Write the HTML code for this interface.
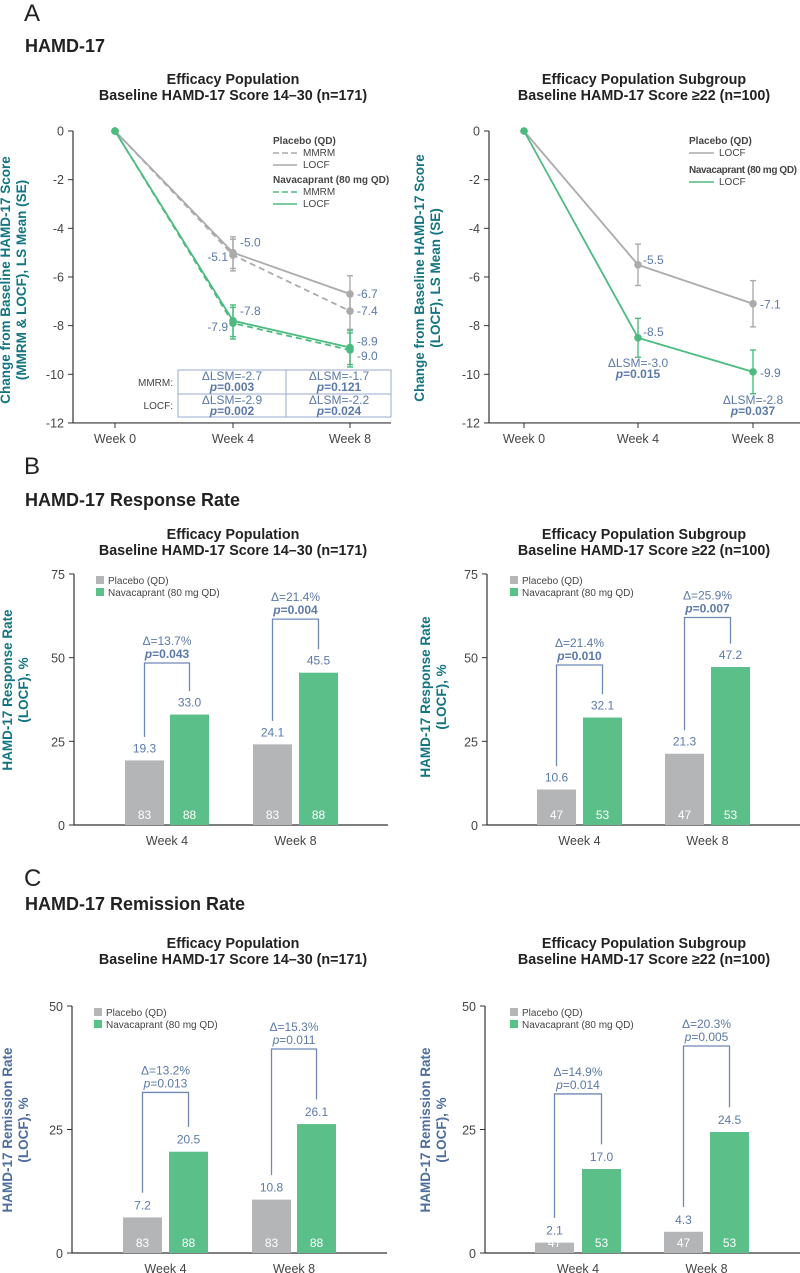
<!DOCTYPE html>
<html><head><meta charset="utf-8">
<style>
html,body{margin:0;padding:0;background:#fff;}
svg{display:block;font-family:"Liberation Sans",Arial,sans-serif;}
.hdr{font-family:"Liberation Sans Narrow","Liberation Sans",sans-serif;font-weight:bold;fill:#222;}
.ttl{font-family:"Liberation Sans Narrow","Liberation Sans",sans-serif;font-weight:bold;font-size:14.3px;fill:#222;}
.tick{font-size:12.5px;fill:#444;}
.val{font-size:12px;fill:#5b79a9;}
.leg{font-size:10px;fill:#444;}
.ytA{font-size:13.5px;font-weight:bold;fill:#127581;}
.ytC{font-size:13.5px;font-weight:bold;fill:#4d6d9e;}
</style></head>
<body>
<svg id="fig" width="800" height="1273" viewBox="0 0 800 1273">
<text x="24" y="21" font-size="24" fill="#222" font-family="Liberation Sans Narrow, Liberation Sans, sans-serif">A</text>
<text x="25" y="52" class="hdr" font-size="18">HAMD-17</text>
<text x="233" y="84" class="ttl" text-anchor="middle">Efficacy Population</text>
<text x="233" y="100" class="ttl" text-anchor="middle">Baseline HAMD-17 Score 14–30 (n=171)</text>
<text x="644" y="84" class="ttl" text-anchor="middle">Efficacy Population Subgroup</text>
<text x="644" y="100" class="ttl" text-anchor="middle">Baseline HAMD-17 Score ≥22 (n=100)</text>

<text x="24" y="474" font-size="24" fill="#222" font-family="Liberation Sans Narrow, Liberation Sans, sans-serif">B</text>
<text x="25" y="506" class="hdr" font-size="18">HAMD-17 Response Rate</text>
<text x="233" y="539" class="ttl" text-anchor="middle">Efficacy Population</text>
<text x="233" y="555" class="ttl" text-anchor="middle">Baseline HAMD-17 Score 14–30 (n=171)</text>
<text x="644" y="539" class="ttl" text-anchor="middle">Efficacy Population Subgroup</text>
<text x="644" y="555" class="ttl" text-anchor="middle">Baseline HAMD-17 Score ≥22 (n=100)</text>

<text x="24" y="886" font-size="24" fill="#222" font-family="Liberation Sans Narrow, Liberation Sans, sans-serif">C</text>
<text x="25" y="910" class="hdr" font-size="18">HAMD-17 Remission Rate</text>
<text x="233" y="948" class="ttl" text-anchor="middle">Efficacy Population</text>
<text x="233" y="964" class="ttl" text-anchor="middle">Baseline HAMD-17 Score 14–30 (n=171)</text>
<text x="644" y="948" class="ttl" text-anchor="middle">Efficacy Population Subgroup</text>
<text x="644" y="964" class="ttl" text-anchor="middle">Baseline HAMD-17 Score ≥22 (n=100)</text>
</svg>
<script>
// ---------- Data: Panel A (line charts) ----------
const weeksA = ["Week 0","Week 4","Week 8"];
const yTicksA = [0,-2,-4,-6,-8,-10,-12];
const aLeftPboMMRM = [0,-5.1,-7.4];
const aLeftPboLOCF = [0,-5.0,-6.7];
const aLeftNavMMRM = [0,-7.9,-9.0];
const aLeftNavLOCF = [0,-7.8,-8.9];
const aLeftPboSE = [0,0.65,0.75];
const aLeftNavSE = [0,0.65,0.7];
const aRightPboLOCF = [0,-5.5,-7.1];
const aRightNavLOCF = [0,-8.5,-9.9];
const aRightPboSE = [0,0.85,0.95];
const aRightNavSE = [0,0.8,0.9];
const aTableMMRM = ["ΔLSM=-2.7","p=0.003","ΔLSM=-1.7","p=0.121"];
const aTableLOCF = ["ΔLSM=-2.9","p=0.002","ΔLSM=-2.2","p=0.024"];
const aRightDelta = ["ΔLSM=-3.0","p=0.015","ΔLSM=-2.8","p=0.037"];

// ---------- Data: Panels B/C (bar charts) ----------
const weeksBar = ["Week 4","Week 8"];
const yTicksB = [0,25,50,75];
const yTicksC = [0,25,50];
const bLeftPbo = [19.3,24.1];
const bLeftNav = [33.0,45.5];
const bLeftN = [83,88];
const bLeftDelta = ["Δ=13.7%","Δ=21.4%"];
const bLeftP = ["p=0.043","p=0.004"];
const bLeftBracket = [48.4,61.5];
const bRightPbo = [10.6,21.3];
const bRightNav = [32.1,47.2];
const bRightN = [47,53];
const bRightDelta = ["Δ=21.4%","Δ=25.9%"];
const bRightP = ["p=0.010","p=0.007"];
const bRightBracket = [47.8,62.0];
const cLeftPbo = [7.2,10.8];
const cLeftNav = [20.5,26.1];
const cLeftN = [83,88];
const cLeftDelta = ["Δ=13.2%","Δ=15.3%"];
const cLeftP = ["p=0.013","p=0.011"];
const cLeftBracket = [32.5,41.3];
const cRightPbo = [2.1,4.3];
const cRightNav = [17.0,24.5];
const cRightN = [47,53];
const cRightDelta = ["Δ=14.9%","Δ=20.3%"];
const cRightP = ["p=0.014","p=0.005"];
const cRightBracket = [32.2,41.9];

const NS = "http://www.w3.org/2000/svg";
const svg = document.getElementById('fig');
const GRAY = "#ababab", GREEN = "#4dbb80", BARG = "#b4b5b7", BARN = "#5bbf8a", BLUE = "#5b79a9", AX = "#333";

function mk(tag, attrs, parent) {
  const e = document.createElementNS(NS, tag);
  for (const k in attrs) e.setAttribute(k, attrs[k]);
  (parent || svg).appendChild(e);
  return e;
}
function txt(x, y, s, cls, anchor, parent, extra) {
  const t = mk('text', Object.assign({x: x, y: y, class: cls, 'text-anchor': anchor || 'start'}, extra || {}), parent);
  t.textContent = s;
  return t;
}
function pText(x, y, s, parent, anchor) {
  const t = mk('text', {x: x, y: y, class: 'val', 'text-anchor': anchor || 'middle', 'font-weight': 'bold'}, parent);
  const a = mk('tspan', {'font-style': 'italic'}, t); a.textContent = s.slice(0,1);
  const b = mk('tspan', {}, t); b.textContent = s.slice(1);
  return t;
}
function yTitle(cx, cy, l1, l2, cls, parent) {
  const g = mk('g', {transform: 'translate(' + cx + ',' + cy + ') rotate(-90)'}, parent);
  
  
  txt(0, -4, l1, cls, 'middle', g);
  txt(0, 12, l2, cls, 'middle', g);
}

function lineChart(o) {
  const g = mk('g', {});
  
  
  const y = v => o.y0 + (-v) * o.pxPer;
  const x = i => o.xs[i];
  const ax = mk('g', {}, g);
  
  
  mk('line', {x1: o.axX, y1: y(0), x2: o.axX, y2: y(-12), stroke: AX, 'stroke-width': 1.2}, ax);
  yTicksA.forEach(v => {
    mk('line', {x1: o.axX - 5, y1: y(v), x2: o.axX, y2: y(v), stroke: AX, 'stroke-width': 1}, ax);
    const t = txt(o.axX - 9, y(v) + 4.5, String(v), 'tick', 'end', ax);
    
    
  });
  const xa = mk('g', {}, g);
  
  
  mk('line', {x1: o.axX, y1: y(-12), x2: o.axEnd, y2: y(-12), stroke: AX, 'stroke-width': 1.2}, xa);
  weeksA.forEach((w, i) => {
    mk('line', {x1: x(i), y1: y(-12), x2: x(i), y2: y(-12) + 5, stroke: AX, 'stroke-width': 1}, xa);
    const t = txt(x(i), y(-12) + 20, w, 'tick', 'middle', xa);
    
    
  });
  o.series.forEach(s => {
    const sg = mk('g', {}, g);
    
    
    s.se.forEach((e, i) => {
      if (e <= 0) return;
      mk('line', {x1: x(i), y1: y(s.v[i] - e), x2: x(i), y2: y(s.v[i] + e), stroke: s.c, 'stroke-width': 1.4}, sg);
      mk('line', {x1: x(i) - 3, y1: y(s.v[i] - e), x2: x(i) + 3, y2: y(s.v[i] - e), stroke: s.c, 'stroke-width': 1.4}, sg);
      mk('line', {x1: x(i) - 3, y1: y(s.v[i] + e), x2: x(i) + 3, y2: y(s.v[i] + e), stroke: s.c, 'stroke-width': 1.4}, sg);
    });
    const pts = s.v.map((v, i) => x(i) + ',' + y(v)).join(' ');
    const pl = mk('polyline', {points: pts, fill: 'none', stroke: s.c, 'stroke-width': 1.8}, sg);
    if (s.dash) pl.setAttribute('stroke-dasharray', '6,4');
    s.v.forEach((v, i) => {
      const c = mk('circle', {cx: x(i), cy: y(v), r: 3.8, fill: s.c}, sg);
      
      
    });
    (s.labels || []).forEach(L => {
      const i = L[0];
      const t = txt(x(i) + L[1], y(s.v[i]) + L[2], s.v[i].toFixed(1), 'val', L[3], sg);
      t.setAttribute('font-size', '13');
      
      
    });
  });
  return {g: g, x: x, y: y};
}

const aL = lineChart({name: 'chart-a-left', y0: 131, pxPer: 24.33, xs: [115,233,350], axX: 73, axEnd: 391,
  series: [
    {name: 'series-placebo-mmrm', v: aLeftPboMMRM, se: aLeftPboSE, c: GRAY, dash: true, labels: [[1,-5,6,'end'],[2,7,4,'start']]},
    {name: 'series-placebo-locf', v: aLeftPboLOCF, se: aLeftPboSE, c: GRAY, dash: false, labels: [[1,7,-6,'start'],[2,7,4,'start']]},
    {name: 'series-navacaprant-mmrm', v: aLeftNavMMRM, se: aLeftNavSE, c: GREEN, dash: true, labels: [[1,-5,8,'end'],[2,7,10,'start']]},
    {name: 'series-navacaprant-locf', v: aLeftNavLOCF, se: aLeftNavSE, c: GREEN, dash: false, labels: [[1,7,-6,'start'],[2,7,-2,'start']]}
  ]});
yTitle(14, 280, 'Change from Baseline HAMD-17 Score', '(MMRM & LOCF), LS Mean (SE)', 'ytA');
(function(){
  const g = mk('g', {});
  
  
  txt(273, 144, 'Placebo (QD)', 'leg', 'start', g, {'font-weight': 'bold', 'font-size': '9.5'});
  mk('line', {x1: 273, y1: 153, x2: 297, y2: 153, stroke: GRAY, 'stroke-width': 1.6, 'stroke-dasharray': '6,3'}, g);
  txt(303, 156, 'MMRM', 'leg', 'start', g);
  mk('line', {x1: 273, y1: 165, x2: 297, y2: 165, stroke: GRAY, 'stroke-width': 1.6}, g);
  txt(303, 168, 'LOCF', 'leg', 'start', g);
  txt(273, 183, 'Navacaprant (80 mg QD)', 'leg', 'start', g, {'font-weight': 'bold', 'font-size': '9.5'});
  mk('line', {x1: 273, y1: 192, x2: 297, y2: 192, stroke: GREEN, 'stroke-width': 1.6, 'stroke-dasharray': '6,3'}, g);
  txt(303, 195, 'MMRM', 'leg', 'start', g);
  mk('line', {x1: 273, y1: 204, x2: 297, y2: 204, stroke: GREEN, 'stroke-width': 1.6}, g);
  txt(303, 207, 'LOCF', 'leg', 'start', g);
})();
(function(){
  const g = mk('g', {});
  
  
  const tc = '#9aaad0';
  mk('rect', {x: 178, y: 370, width: 213, height: 47, fill: '#fff', stroke: tc, 'stroke-width': 1}, g);
  mk('line', {x1: 286, y1: 370, x2: 286, y2: 417, stroke: tc}, g);
  mk('line', {x1: 178, y1: 394, x2: 391, y2: 394, stroke: tc}, g);
  txt(173, 386, 'MMRM:', 'leg', 'end', g, {'font-size': '10'});
  txt(173, 409, 'LOCF:', 'leg', 'end', g, {'font-size': '10'});
  [[aTableMMRM, 370], [aTableLOCF, 394]].forEach(r => {
    txt(232, r[1] + 10, r[0][0], 'val', 'middle', g, {'font-size': '9.8'});
    pText(232, r[1] + 21, r[0][1], g).setAttribute('font-size', '9.8');
    txt(339, r[1] + 10, r[0][2], 'val', 'middle', g, {'font-size': '9.8'});
    pText(339, r[1] + 21, r[0][3], g).setAttribute('font-size', '9.8');
  });
})();

const aR = lineChart({name: 'chart-a-right', y0: 131, pxPer: 24.33, xs: [524,638,753], axX: 489, axEnd: 800,
  series: [
    {name: 'series-placebo-locf', v: aRightPboLOCF, se: aRightPboSE, c: GRAY, dash: false, labels: [[1,5,-1,'start'],[2,7,5,'start']]},
    {name: 'series-navacaprant-locf', v: aRightNavLOCF, se: aRightNavSE, c: GREEN, dash: false, labels: [[1,5,-2,'start'],[2,7,5,'start']]}
  ]});
yTitle(428, 278, 'Change from Baseline HAMD-17 Score', '(LOCF), LS Mean (SE)', 'ytA');
(function(){
  const g = mk('g', {});
  
  
  txt(689, 144, 'Placebo (QD)', 'leg', 'start', g, {'font-weight': 'bold', 'font-size': '9.5'});
  mk('line', {x1: 689, y1: 153, x2: 714, y2: 153, stroke: GRAY, 'stroke-width': 1.6}, g);
  txt(719, 156, 'LOCF', 'leg', 'start', g);
  txt(689, 173, 'Navacaprant (80 mg QD)', 'leg', 'start', g, {'font-weight': 'bold', 'font-size': '9', 'textLength': '108'});
  mk('line', {x1: 689, y1: 182, x2: 714, y2: 182, stroke: GREEN, 'stroke-width': 1.6}, g);
  txt(719, 185, 'LOCF', 'leg', 'start', g);
  txt(638, 367, aRightDelta[0], 'val', 'middle', g, {'font-size': '10'});
  pText(638, 378, aRightDelta[1], g).setAttribute('font-size', '10');
  txt(753, 404, aRightDelta[2], 'val', 'middle', g, {'font-size': '10'});
  pText(753, 415, aRightDelta[3], g).setAttribute('font-size', '10');
})();

function barChart(o) {
  const g = mk('g', {});
  
  
  const y = v => o.y0 - v * o.pxPer;
  const ymax = o.ticks[o.ticks.length - 1];
  const ax = mk('g', {}, g);
  
  
  mk('line', {x1: o.axX, y1: y(0), x2: o.axX, y2: y(ymax), stroke: AX, 'stroke-width': 1.2}, ax);
  o.ticks.forEach(v => {
    mk('line', {x1: o.axX - 5, y1: y(v), x2: o.axX, y2: y(v), stroke: AX}, ax);
    const t = txt(o.axX - 9, y(v) + 5, String(v), 'tick', 'end', ax, {'font-size': '13'});
    
    
  });
  const xa = mk('g', {}, g);
  
  
  mk('line', {x1: o.axX, y1: y(0), x2: o.axEnd, y2: y(0), stroke: AX, 'stroke-width': 1.2}, xa);
  weeksBar.forEach((w, i) => {
    const cx = (o.gx[i] + o.nx[i] + o.bw) / 2;
    const t = txt(cx, y(0) + 20, w, 'tick', 'middle', xa, {'font-size': '13'});
    
    
  });
  weeksBar.forEach((w, i) => {
    const pairs = [[o.pbo[i], o.gx[i], BARG, 'bar-placebo', o.n[0]], [o.nav[i], o.nx[i], BARN, 'bar-navacaprant', o.n[1]]];
    pairs.forEach(p => {
      const r = mk('rect', {x: p[1], y: y(p[0]), width: o.bw, height: y(0) - y(p[0]), fill: p[2]}, g);
      
      
      const t = txt(p[1] + o.bw / 2, y(p[0]) - 8, p[0].toFixed(1), 'val', 'middle', g, {'font-size': '13'});
      
      
      const n = txt(p[1] + o.bw / 2, y(0) - 6, String(p[4]), 'val', 'middle', g, {'font-size': '12.5', style: 'fill:#fff'});
      
      
    });
    const lx = o.gx[i] + o.bw / 2, rx = o.nx[i] + o.bw / 2;
    const top = y(o.bracket[i]);
    const br = mk('polyline', {points: lx + ',' + y(o.pbo[i] + o.legPad) + ' ' + lx + ',' + top + ' ' + rx + ',' + top + ' ' + rx + ',' + y(o.nav[i] + o.legPad), fill: 'none', stroke: '#6f88b4', 'stroke-width': 1.3}, g);
    
    
    const cx = (lx + rx) / 2;
    txt(cx, top - 18, o.delta[i], 'val', 'middle', g, {'font-size': '11.5'});
    const pt = pText(cx, top - 5, o.p[i], g);
    pt.setAttribute('font-size', '11.5');
    if (!o.boldP) pt.setAttribute('font-weight', 'normal');
  });
  const lg = mk('g', {}, g);
  
  
  mk('rect', {x: o.legX, y: o.legY - 4, width: 8, height: 8, fill: BARG}, lg);
  txt(o.legX + 12, o.legY + 4, 'Placebo (QD)', 'leg', 'start', lg);
  mk('rect', {x: o.legX, y: o.legY + 8, width: 8, height: 8, fill: BARN}, lg);
  txt(o.legX + 12, o.legY + 16, 'Navacaprant (80 mg QD)', 'leg', 'start', lg);
}

barChart({name: 'chart-b-left', y0: 825, pxPer: 3.347, ticks: yTicksB, axX: 74, axEnd: 388, bw: 39,
  gx: [125,253], nx: [170,299], pbo: bLeftPbo, nav: bLeftNav, n: bLeftN, delta: bLeftDelta, p: bLeftP,
  bracket: bLeftBracket, legPad: 7, boldP: true, legX: 96, legY: 580});
yTitle(16, 690, 'HAMD-17 Response Rate', '(LOCF), %', 'ytA');
barChart({name: 'chart-b-right', y0: 825, pxPer: 3.347, ticks: yTicksB, axX: 487, axEnd: 800, bw: 39,
  gx: [537,665], nx: [583,711], pbo: bRightPbo, nav: bRightNav, n: bRightN, delta: bRightDelta, p: bRightP,
  bracket: bRightBracket, legPad: 7, boldP: true, legX: 510, legY: 580});
yTitle(434, 697, 'HAMD-17 Response Rate', '(LOCF), %', 'ytA');

barChart({name: 'chart-c-left', y0: 1253, pxPer: 4.94, ticks: yTicksC, axX: 72, axEnd: 387, bw: 39,
  gx: [123,252], nx: [169,297], pbo: cLeftPbo, nav: cLeftNav, n: cLeftN, delta: cLeftDelta, p: cLeftP,
  bracket: cLeftBracket, legPad: 5, boldP: false, legX: 94, legY: 1012});
yTitle(16, 1130, 'HAMD-17 Remission Rate', '(LOCF), %', 'ytC');
barChart({name: 'chart-c-right', y0: 1253, pxPer: 4.94, ticks: yTicksC, axX: 485, axEnd: 800, bw: 39,
  gx: [535,664], nx: [582,710], pbo: cRightPbo, nav: cRightNav, n: cRightN, delta: cRightDelta, p: cRightP,
  bracket: cRightBracket, legPad: 5, boldP: false, legX: 510, legY: 1012});
yTitle(434, 1130, 'HAMD-17 Remission Rate', '(LOCF), %', 'ytC');
</script>
</body></html>
